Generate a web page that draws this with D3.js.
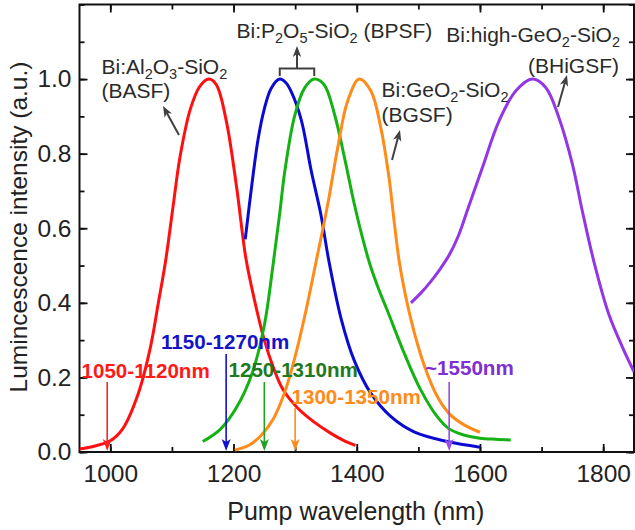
<!DOCTYPE html>
<html>
<head>
<meta charset="utf-8">
<script src="https://cdn.jsdelivr.net/npm/d3@7"></script>
<style>
  body { margin: 0; background: #fff; }
  svg { display: block; font-family: "Liberation Sans", Arial, sans-serif; }
  .axis line { stroke: #111; }
</style>
</head>
<body>
<svg id="chart" width="635" height="530"></svg>
<script>
// wavelength (nm), normalized intensity
const basf = [[950,0.008],[975,0.016],[1000,0.03],[1020,0.062],[1045,0.155],[1065,0.28],[1078,0.4],[1090,0.515],[1102,0.66],[1113,0.79],[1130,0.92],[1145,0.98],[1160,1.0],[1172,0.985],[1188,0.89],[1205,0.71],[1220,0.52],[1235,0.4],[1250,0.3],[1265,0.225],[1280,0.168],[1304,0.118],[1331,0.08],[1358,0.05],[1380,0.03],[1398,0.018]];
const bpsfBlue = [[1219,0.57],[1230,0.72],[1240,0.84],[1250,0.92],[1261,0.975],[1275,1.0],[1285,0.99],[1294,0.965],[1310,0.89],[1326,0.755],[1342,0.635],[1355,0.51],[1375,0.355],[1396,0.245],[1423,0.157],[1456,0.094],[1493,0.054],[1547,0.028],[1600,0.013]];
const bpsfGreen = [[1150,0.028],[1178,0.06],[1205,0.12],[1230,0.21],[1250,0.34],[1264,0.5],[1275,0.64],[1283,0.75],[1299,0.9],[1315,0.975],[1331,1.0],[1347,0.985],[1364,0.905],[1380,0.79],[1396,0.665],[1410,0.57],[1422,0.5],[1436,0.435],[1450,0.378],[1477,0.265],[1504,0.166],[1531,0.094],[1550,0.062],[1575,0.045],[1600,0.037],[1625,0.034],[1650,0.032]];
const bgsf = [[1202,0.005],[1225,0.018],[1245,0.045],[1265,0.09],[1283,0.16],[1299,0.25],[1315,0.36],[1334,0.51],[1353,0.665],[1369,0.815],[1385,0.94],[1404,1.0],[1423,0.968],[1439,0.87],[1452,0.74],[1462,0.6],[1470,0.5],[1488,0.355],[1510,0.23],[1531,0.148],[1550,0.103],[1575,0.072],[1600,0.053]];
const bhigsf = [[1488,0.4],[1505,0.428],[1520,0.457],[1535,0.49],[1550,0.528],[1565,0.58],[1580,0.65],[1604,0.763],[1631,0.888],[1658,0.968],[1685,1.0],[1707,0.977],[1728,0.897],[1750,0.772],[1766,0.647],[1785,0.51],[1809,0.37],[1831,0.282],[1850,0.215]];

const pumpNm = [995, 1188, 1250, 1300, 1550];
const pumpLabels = ["1050-1120nm", "1150-1270nm", "1250-1310nm", "1300-1350nm", "~1550nm"];

const svg = d3.select("#chart");
const x = d3.scaleLinear().domain([950, 1850]).range([79.5, 634]);
const y = d3.scaleLinear().domain([0, 1.2]).range([452, 4.5]);

svg.append("defs").append("clipPath").attr("id", "clip")
    .append("rect").attr("x", 79.5).attr("y", 4.5).attr("width", 634 - 79.5).attr("height", 452 - 4.5);

// axes, ticks inward on all four sides
const majorX = [1000, 1200, 1400, 1600, 1800];
const minorX = d3.range(1000, 1851, 100);
const majorY = [0, 0.2, 0.4, 0.6, 0.8, 1.0];
const minorY = d3.range(0, 1.21, 0.1);

function drawAxis(axisFn, scale, tr, ticks, size, fmt, pad) {
    const g = svg.append("g").attr("class", "axis").attr("transform", tr)
        .call(axisFn(scale).tickValues(ticks).tickSize(size).tickPadding(pad).tickFormat(fmt));
    g.select(".domain").remove();
    g.selectAll("line").attr("stroke-width", 1.8);
    g.selectAll("text")
        .style("font-size", "24.5px")
        .style("font-family", "'Liberation Sans', Arial, sans-serif")
        .attr("fill", "#222");
    return g;
}
drawAxis(d3.axisBottom, x, "translate(0,452)", minorX, -5, () => "", 0);
drawAxis(d3.axisBottom, x, "translate(0,452)", majorX, -8, d3.format("d"), 13);
drawAxis(d3.axisTop, x, "translate(0,4.5)", minorX, -5, () => "", 0);
drawAxis(d3.axisTop, x, "translate(0,4.5)", majorX, -8, () => "", 0);
drawAxis(d3.axisLeft, y, "translate(79.5,0)", minorY, -5, () => "", 0);
drawAxis(d3.axisLeft, y, "translate(79.5,0)", majorY, -8, d3.format(".1f"), 8);
drawAxis(d3.axisRight, y, "translate(634,0)", minorY, -5, () => "", 0);
drawAxis(d3.axisRight, y, "translate(634,0)", majorY, -8, () => "", 0);

svg.append("rect").attr("x", 79.5).attr("y", 4.5).attr("width", 634 - 79.5).attr("height", 452 - 4.5)
    .attr("fill", "none").attr("stroke", "#111").attr("stroke-width", 2);

// spectra
const line = d3.line().x(d => x(d[0])).y(d => y(d[1])).curve(d3.curveCatmullRom.alpha(0.5));
const series = [
    {data: basf, color: "#ff1010"},
    {data: bpsfBlue, color: "#0a0ad2"},
    {data: bpsfGreen, color: "#15b215"},
    {data: bgsf, color: "#ff8c1a"},
    {data: bhigsf, color: "#9236e6"}
];
svg.append("g").attr("clip-path", "url(#clip)")
    .selectAll("path").data(series).join("path")
    .attr("d", d => line(d.data))
    .attr("fill", "none")
    .attr("stroke", d => d.color)
    .attr("stroke-width", 3)
    .attr("stroke-linejoin", "round");

// pump arrows and labels
const arrowColors = ["#ff2020", "#1010d0", "#22a022", "#ff8c1a", "#9b4be8"];
const textColors = ["#ff1a1a", "#1414c8", "#1f7a1f", "#ff8c1a", "#7f2fd4"];
const arrowTop = [382, 354, 382, 408, 382];
const labelPos = [[81.5, 377.5], [161, 348.5], [228.5, 377], [291.5, 403.5], [425, 375]];

const pumps = svg.append("g");
pumpNm.forEach((nm, i) => {
    const px = x(nm), tip = 451;
    pumps.append("line").attr("x1", px).attr("x2", px).attr("y1", arrowTop[i]).attr("y2", tip - 8)
        .attr("stroke", arrowColors[i]).attr("stroke-width", 1.6);
    pumps.append("path")
        .attr("d", `M${px},${tip} L${px - 4.5},${tip - 12} L${px},${tip - 9} L${px + 4.5},${tip - 12} Z`)
        .attr("fill", arrowColors[i]);
    pumps.append("text").attr("x", labelPos[i][0]).attr("y", labelPos[i][1])
        .attr("font-size", 20.6).attr("font-weight", "bold").attr("fill", textColors[i])
        .text(pumpLabels[i]);
});

// sample annotations with subscripts
function chem(g, xp, yp, segs, anchor) {
    const t = g.append("text").attr("x", xp).attr("y", yp).attr("font-size", 21).attr("fill", "#2a2a2a")
        .attr("text-anchor", anchor || "start");
    let shifted = false;
    segs.forEach(s => {
        const isSub = typeof s === "object";
        const dy = isSub && !shifted ? 5 : (!isSub && shifted ? -5 : 0);
        shifted = isSub;
        t.append("tspan").attr("dy", dy).attr("font-size", isSub ? 14.5 : 21).text(isSub ? s.sub : s);
    });
}
const notes = svg.append("g");
chem(notes, 101.5, 74, ["Bi:Al", {sub: "2"}, "O", {sub: "3"}, "-SiO", {sub: "2"}]);
chem(notes, 101.5, 98, ["(BASF)"]);
chem(notes, 236.5, 38, ["Bi:P", {sub: "2"}, "O", {sub: "5"}, "-SiO", {sub: "2"}, " (BPSF)"]);
chem(notes, 381.5, 97, ["Bi:GeO", {sub: "2"}, "-SiO", {sub: "2"}]);
chem(notes, 381.5, 122, ["(BGSF)"]);
chem(notes, 620, 42, ["Bi:high-GeO", {sub: "2"}, "-SiO", {sub: "2"}], "end");
chem(notes, 619, 73, ["(BHiGSF)"], "end");

function grayArrow(x1, y1, x2, y2) {
    const a = Math.atan2(y2 - y1, x2 - x1), L = 11, W = 4.2;
    const bx = x2 - L * Math.cos(a), by = y2 - L * Math.sin(a);
    const nx = -Math.sin(a) * W, ny = Math.cos(a) * W;
    const mx = x2 - 8 * Math.cos(a), my = y2 - 8 * Math.sin(a);
    notes.append("line").attr("x1", x1).attr("y1", y1).attr("x2", mx).attr("y2", my)
        .attr("stroke", "#404040").attr("stroke-width", 2);
    notes.append("path")
        .attr("d", `M${x2},${y2} L${bx + nx},${by + ny} L${mx},${my} L${bx - nx},${by - ny} Z`)
        .attr("fill", "#404040");
}
grayArrow(179, 135, 163, 106);
grayArrow(392, 160, 400, 130);
grayArrow(558, 107, 567, 75);
grayArrow(297, 68, 297, 46);
// bracket over the two BPSF peaks
notes.append("path")
    .attr("d", `M${x(1275)},76 V68.5 H${x(1331)} V76`)
    .attr("fill", "none").attr("stroke", "#404040").attr("stroke-width", 2);

// axis titles
svg.append("text").attr("x", (79.5 + 634) / 2 - 1).attr("y", 520).attr("text-anchor", "middle")
    .attr("font-size", 25).attr("fill", "#222").text("Pump wavelength (nm)");
svg.append("text").attr("transform", "translate(27,227) rotate(-90)").attr("text-anchor", "middle")
    .attr("font-size", 24.5).attr("fill", "#222").text("Lumincescence intensity (a.u.)");
</script>
</body>
</html>
